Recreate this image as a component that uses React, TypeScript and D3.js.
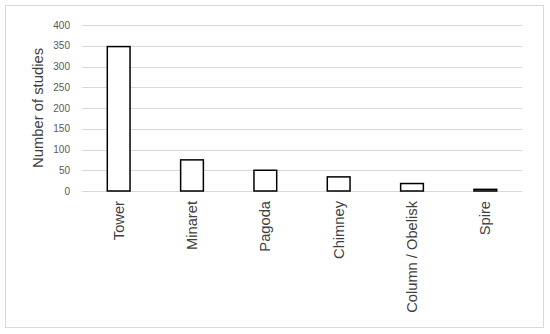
import React from 'react';
import * as d3 from 'd3';

const categories = ['Tower', 'Minaret', 'Pagoda', 'Chimney', 'Column / Obelisk', 'Spire'];
const studies = [348, 75, 50, 34, 18, 4];
const yTicks = [0, 50, 100, 150, 200, 250, 300, 350, 400];

const width = 550;
const height = 334;
const margin = { top: 25, right: 28, bottom: 143, left: 82 };

const App = () => {
  const x = d3.scaleBand()
    .domain(categories)
    .range([margin.left, width - margin.right])
    .paddingInner(0.69)
    .paddingOuter(0.345);
  const y = d3.scaleLinear()
    .domain([0, 400])
    .range([height - margin.bottom, margin.top]);

  const font = 'Arial, "Liberation Sans", sans-serif';

  return (
    <>
      <style>{`body { margin: 0; }`}</style>
      <svg width={width} height={height} style={{ display: 'block', background: '#fff' }}>
        <rect x={5.5} y={5.5} width={538} height={322} fill="#fff" stroke="#d9d9d9" strokeWidth={1} />

        {/* grid + tick labels */}
        {yTicks.map(t => (
          <g key={t}>
            <line
              x1={margin.left}
              x2={width - margin.right}
              y1={Math.round(y(t)) + 0.5}
              y2={Math.round(y(t)) + 0.5}
              stroke="#d9d9d9"
              strokeWidth={1}
            />
            <text
              x={margin.left - 12}
              y={y(t)}
              dy="0.35em"
              textAnchor="end"
              fontFamily={font}
              fontSize={10}
              fill="#595959"
            >
              {t}
            </text>
          </g>
        ))}

        {/* bars */}
        {categories.map((c, i) => (
          <rect
            key={c}
            x={x(c)}
            y={y(studies[i])}
            width={x.bandwidth()}
            height={y(0) - y(studies[i])}
            fill="#fff"
            stroke="#000"
            strokeWidth={1.5}
          />
        ))}

        {/* category labels */}
        {categories.map(c => {
          const cx = (x(c) as number) + x.bandwidth() / 2;
          return (
            <text
              key={c}
              transform={`translate(${cx},${y(0) + 10}) rotate(-90)`}
              dy="0.35em"
              textAnchor="end"
              fontFamily={font}
              fontSize={14.7}
              fill="#404040"
            >
              {c}
            </text>
          );
        })}

        <text
          transform={`translate(38,${(y(0) + y(400)) / 2}) rotate(-90)`}
          dy="0.35em"
          textAnchor="middle"
          fontFamily={font}
          fontSize={14.8}
          fill="#404040"
        >
          Number of studies
        </text>
      </svg>
    </>
  );
};

export default App;
